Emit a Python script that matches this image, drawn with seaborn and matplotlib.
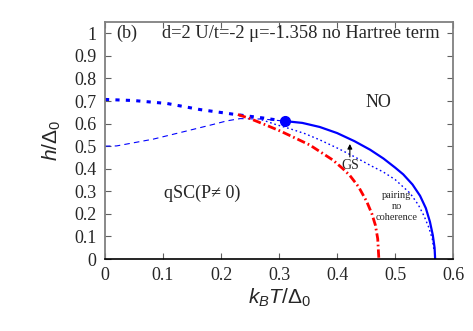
import matplotlib
matplotlib.use("Agg")
import matplotlib.pyplot as plt
import seaborn as sns
import pandas as pd

# curves (k_B T / Delta_0, h / Delta_0)
solid_T = [0.310, 0.340, 0.370, 0.400, 0.430, 0.457, 0.480, 0.500, 0.514, 0.530,
           0.543, 0.553, 0.560, 0.565, 0.568, 0.569]
solid_h = [0.611, 0.603, 0.585, 0.558, 0.522, 0.484, 0.445, 0.405, 0.375, 0.330,
           0.280, 0.225, 0.165, 0.105, 0.050, 0.0]

dot_T = [0.270, 0.293, 0.319, 0.345, 0.370, 0.400, 0.430, 0.457, 0.480, 0.500,
         0.526, 0.540, 0.550, 0.558, 0.564, 0.567]
dot_h = [0.617, 0.597, 0.577, 0.555, 0.528, 0.492, 0.453, 0.415, 0.385, 0.352,
         0.291, 0.240, 0.190, 0.140, 0.090, 0.040]

thick_T = [0.0, 0.05, 0.107, 0.164, 0.220, 0.272, 0.310]
thick_h = [0.707, 0.702, 0.689, 0.662, 0.642, 0.625, 0.611]

thin_T = [0.0, 0.02, 0.083, 0.134, 0.186, 0.210, 0.233, 0.272, 0.310]
thin_h = [0.500, 0.501, 0.531, 0.563, 0.596, 0.612, 0.622, 0.620, 0.611]

red_T = [0.229, 0.250, 0.276, 0.302, 0.322, 0.353, 0.393, 0.410, 0.422, 0.437,
         0.451, 0.460, 0.466, 0.470, 0.472]
red_h = [0.640, 0.622, 0.595, 0.567, 0.543, 0.505, 0.438, 0.400, 0.370, 0.320,
         0.255, 0.200, 0.150, 0.090, 0.0]

gs_point = (0.310, 0.611)

sns.set_style("ticks")
plt.rcParams["font.family"] = ["Liberation Serif", "DejaVu Serif"]
plt.rcParams["mathtext.fontset"] = "custom"
plt.rcParams["mathtext.it"] = "Liberation Sans:italic"
plt.rcParams["mathtext.rm"] = "Liberation Sans"
plt.rcParams["lines.scale_dashes"] = False

fig = plt.figure(figsize=(4.73, 3.31), dpi=100)
ax = fig.add_axes([0.222, 0.2175, 0.736, 0.716])

def curve(T, h, ls, **kw):
    d = pd.DataFrame({"T": T, "h": h})
    sns.lineplot(data=d, x="T", y="h", sort=False, estimator=None, ax=ax, **kw)
    ax.lines[-1].set_linestyle(ls)

curve(thick_T, thick_h, (0, (3, 4.5)), color="blue", lw=2.2)
curve(thin_T, thin_h, (0, (4, 3)), color="blue", lw=0.8)
curve(red_T, red_h, (0, (6, 2.2, 1.2, 2.2)), color="red", lw=2.0)
curve(dot_T, dot_h, (0, (1.2, 2.0)), color="blue", lw=1.0)
curve(solid_T, solid_h, "-", color="blue", lw=1.6)
ax.plot(*gs_point, "o", color="blue", ms=7)

ax.set_xlim(0, 0.6)
ax.set_ylim(0, 1.05)
ax.set_xticks([0, 0.1, 0.2, 0.3, 0.4, 0.5, 0.6])
ax.set_xticklabels(["0", "0.1", "0.2", "0.3", "0.4", "0.5", "0.6"])
ax.set_yticks([0, 0.1, 0.2, 0.3, 0.4, 0.5, 0.6, 0.7, 0.8, 0.9, 1])
ax.set_yticklabels(["0", "0.1", "0.2", "0.3", "0.4", "0.5", "0.6", "0.7", "0.8", "0.9", "1"])
ax.tick_params(direction="in", top=True, right=True, length=4, labelsize=13,
               color="#606060", pad=6)

for s in ["left", "top", "right"]:
    ax.spines[s].set_color("#808080")
    ax.spines[s].set_linewidth(1.3)
ax.spines["bottom"].set_color("black")
ax.spines["bottom"].set_linewidth(1.2)
ax.spines["right"].set_visible(True)
ax.spines["top"].set_visible(True)

ax.set_xlabel(r"$k_BT/\Delta_0$", fontsize=15, labelpad=2)
ax.set_ylabel(r"$h/\Delta_0$", fontsize=15, labelpad=8)

ax.text(0.02, 1.0, "(b)", fontsize=13, va="center")
ax.text(0.098, 1.0, "d=2 U/t=-2 μ=-1.358 no Hartree term", fontsize=13.3, va="center")
ax.text(0.472, 0.695, "NO", fontsize=13, ha="center", va="center")
ax.text(0.167, 0.292, "qSC(P≠ 0)", fontsize=13, ha="center", va="center")
ax.text(0.422, 0.416, "GS", fontsize=10, ha="center", va="center")
ax.annotate("", xy=(0.422, 0.522), xytext=(0.422, 0.44),
            arrowprops=dict(arrowstyle="-|>", color="black", lw=0.8, mutation_scale=7))
ax.text(0.503, 0.231, "pairing\nno\ncoherence", fontsize=7.5, ha="center", va="center",
        linespacing=1.3)

fig.savefig("out.png", dpi=100)
